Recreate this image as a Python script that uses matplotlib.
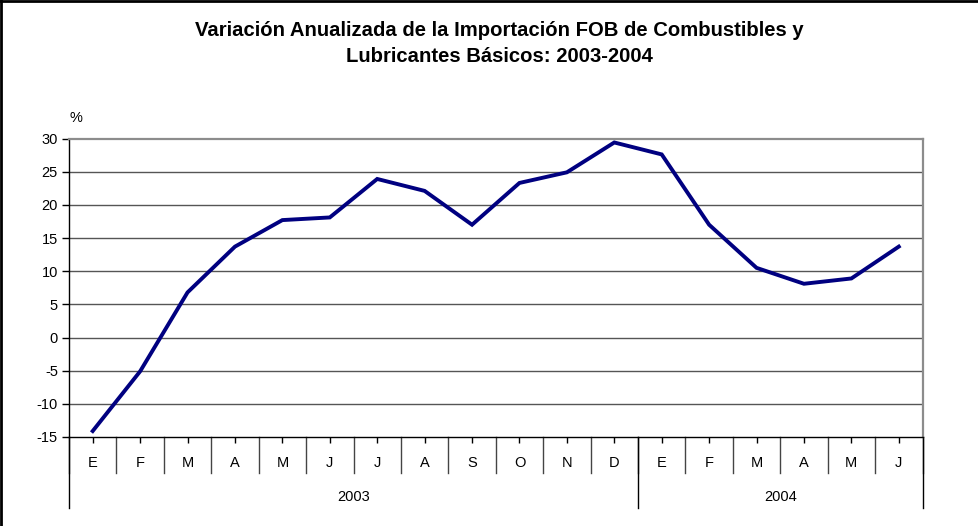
import matplotlib
matplotlib.use("Agg")
import matplotlib.pyplot as plt
from matplotlib import font_manager
from matplotlib.lines import Line2D

names = {f.name for f in font_manager.fontManager.ttflist}
FAM = 'Liberation Sans Narrow' if 'Liberation Sans Narrow' in names else 'Liberation Sans'
plt.rcParams['font.family'] = [FAM, 'DejaVu Sans']

months = ["E", "F", "M", "A", "M", "J", "J", "A", "S", "O", "N", "D",
          "E", "F", "M", "A", "M", "J"]
years = ["2003", "2004"]
year_counts = [12, 6]
values = [-14.1, -5.1, 6.8, 13.7, 17.7, 18.1, 23.9, 22.1, 17.0, 23.3, 24.9, 29.4,
          27.6, 17.0, 10.5, 8.1, 8.9, 13.7]
yticks = [-15, -10, -5, 0, 5, 10, 15, 20, 25, 30]
title = "Variación Anualizada de la Importación FOB de Combustibles y\nLubricantes Básicos: 2003-2004"

W, H = 979, 526
fig = plt.figure(figsize=(W / 100, H / 100), dpi=100)
left, right, top, bottom = 69, 922.5, 138.5, 437
ax = fig.add_axes([left / W, 1 - bottom / H, (right - left) / W, (bottom - top) / H])

n = len(values)
x = [i + 0.5 for i in range(n)]
ax.set_xlim(0, n)
ax.set_ylim(-15, 30)
ax.set_yticks(yticks)
ax.set_yticklabels([str(t) for t in yticks], fontsize=10.5)
for t in yticks:
    if t not in (-15, 30):
        ax.axhline(t, color="#555555", lw=1.0, zorder=1)

ax.plot(x, values, color="#000080", lw=2.8, solid_joinstyle="miter", zorder=3)

for s in ["top", "right"]:
    ax.spines[s].set_color("#8c8c8c")
    ax.spines[s].set_linewidth(1.6)
ax.spines["left"].set_color("black")
ax.spines["bottom"].set_color("black")
ax.spines["left"].set_linewidth(1.0)
ax.spines["bottom"].set_linewidth(1.0)

ax.tick_params(axis="y", direction="out", length=5, width=1, pad=3, colors="black")
ax.set_xticks(x)
ax.set_xticklabels([])
ax.tick_params(axis="x", direction="out", length=4, width=1)

ph = bottom - top
xt = ax.get_xaxis_transform()
# category separators
for i in range(n + 1):
    ax.add_line(Line2D([i, i], [0, -36 / ph], transform=xt,
                       color="#444444", lw=1.0, clip_on=False))
# month labels
for xi, m in zip(x, months):
    ax.text(xi, -26 / ph, m, transform=xt, ha="center", va="center", fontsize=10.5)
# year groups
pos = 0
for yr, c in zip(years, year_counts):
    ax.text(pos + c / 2, -60 / ph, yr, transform=xt, ha="center",
            va="center", fontsize=10.5)
    pos += c
bounds = [0]
for c in year_counts:
    bounds.append(bounds[-1] + c)
for b in bounds:
    ax.add_line(Line2D([b, b], [0, -71 / ph], transform=xt,
                       color="black", lw=1.0, clip_on=False))

ax.text(0.15, 1 + 21 / ph, "%", transform=xt, ha="center", va="center", fontsize=10.5)

fig.text(499 / W, 1 - 43.5 / H, title, ha="center", va="center", fontsize=14.6,
         fontweight="bold", linespacing=1.5)

# figure border (left and top)
fig.add_artist(Line2D([1 / W, 1 / W], [0, 1], transform=fig.transFigure, color="black", lw=2))
fig.add_artist(Line2D([0, 1], [1 - 1 / H, 1 - 1 / H], transform=fig.transFigure, color="black", lw=2))

fig.savefig("out.png", dpi=100)
